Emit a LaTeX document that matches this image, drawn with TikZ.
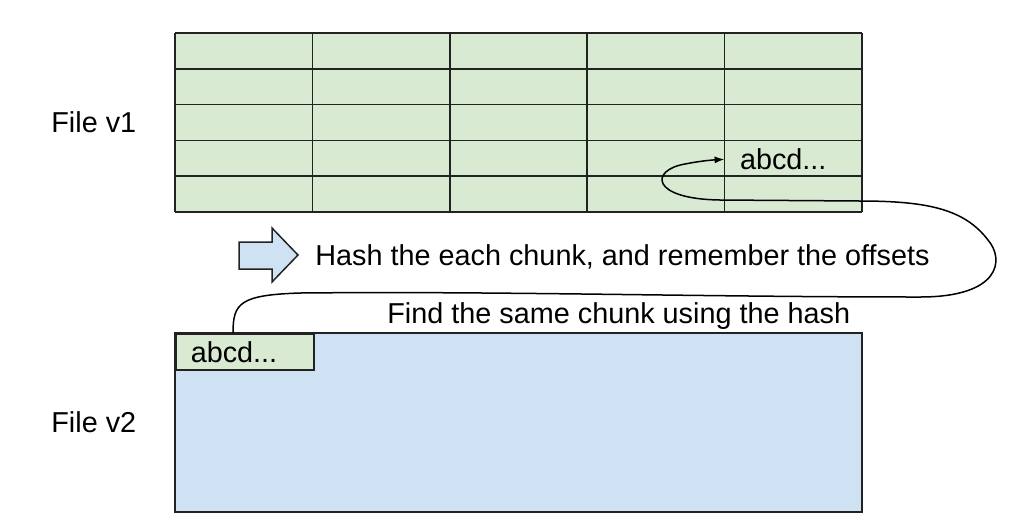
\documentclass[tikz,border=0pt]{standalone}
\usepackage{fontspec}
\setmainfont{Liberation Sans}
\usetikzlibrary{arrows.meta}
\definecolor{chunkgreen}{HTML}{D9EAD3}
\definecolor{fileblue}{HTML}{CFE2F3}
\definecolor{edge}{HTML}{222222}
\tikzset{
    label text/.style = {inner sep = 0pt, font = \fontsize{14.4}{17}\selectfont},
    chunk/.style = {draw = edge, fill = chunkgreen, line width = 0.75pt, text width = 54pt, align = left, minimum height = 18pt, inner xsep = 7.5pt, text depth = 0pt, font = \fontsize{14.4}{17}\selectfont}
}
\begin{document}
\begin{tikzpicture}[x = 0.5pt, y = -0.5pt]
        \useasboundingbox (0, 0) rectangle (1024, 526);

        % file v1, cut into chunks
        \fill [chunkgreen] (175, 33) rectangle (862, 212);
        \foreach \col in {175, 312.4, 449.8, 587.2, 724.6, 862}
            \draw [edge, line width = 0.8pt] (\col, 33) -- (\col, 212);
        \foreach \row in {33, 68.8, 104.6, 140.4, 176.2, 212}
            \draw [edge, line width = 0.8pt] (175, \row) -- (862, \row);
        \node [label text, anchor = west] (hashA) at (739.6, 159.3) {abcd...};
        \coordinate (hit) at (724.6, 159.3);
        \node [label text, anchor = base west] (fileA) at (51, 132) {File v1};

        % step arrow and texts
        \draw [edge, fill = fileblue, line width = 0.75pt] (239, 242) -- (272, 242) -- (272, 228) -- (298, 255) -- (272, 282) -- (272, 269) -- (239, 269) -- cycle;
        \node [label text, anchor = base west] (hashing) at (315, 265) {Hash the each chunk, and remember the offsets};
        \node [label text, anchor = base west] (finding) at (387, 323) {Find the same chunk using the hash};

        % file v2
        \draw [edge, fill = fileblue, line width = 0.8pt] (175, 333) rectangle (862, 512);
        \node [chunk, anchor = north west] (hashB) at (175, 333) {abcd...};
        \node [label text, anchor = base west] (fileB) at (51, 432) {File v2};

        % the matching connector
        \draw [-{Latex[length = 5pt, width = 3.5pt]}, line width = 0.75pt] (hashB.north -| 233, 0) .. controls (233, 303) and (240, 295) .. (300, 293)
            .. controls (500, 291) and (700, 297) .. (920, 297)
            .. controls (1000, 297) and (1005, 260) .. (988, 240)
            .. controls (965, 210) and (930, 201) .. (860, 201)
            -- (720, 200) .. controls (650, 199) and (650, 170) .. (685, 164)
            .. controls (700, 161) and (712, 160) .. (hit);
    \end{tikzpicture}
\end{document}
